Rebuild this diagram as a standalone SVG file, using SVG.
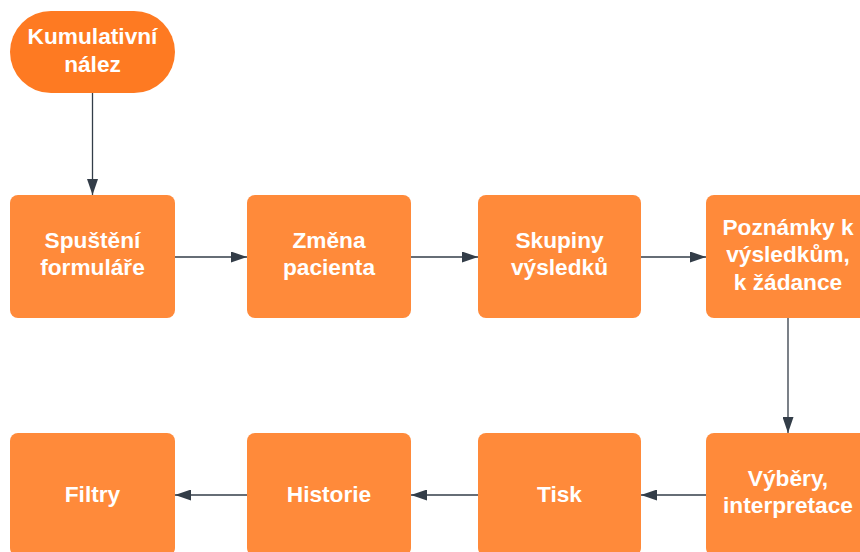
<svg xmlns="http://www.w3.org/2000/svg" width="860" height="552" viewBox="0 0 860 552">
  <defs>
    <marker id="arrow" markerUnits="userSpaceOnUse" markerWidth="17" markerHeight="11" refX="16" refY="5.5" orient="auto">
      <path d="M0,0 L16,5.5 L0,11 Z" fill="#333D48"/>
    </marker>
    <style>
      .box { fill: #FF8A3A; }
      .start { fill: #FE7A22; }
      .label { font-family: "Liberation Sans", Arial, sans-serif; font-weight: bold; font-size: 22.7px; fill: #FFFFFF; text-anchor: middle; }
      .edge { stroke: #333D48; stroke-width: 1.3; fill: none; marker-end: url(#arrow); }
    </style>
  </defs>
  <rect width="860" height="552" fill="#FFFFFF"/>

  <g id="connectors">
    <path class="edge" d="M92.5,93 L92.5,195"/>
    <path class="edge" d="M175,257 L247,257"/>
    <path class="edge" d="M411,257 L478,257"/>
    <path class="edge" d="M641,257 L706,257"/>
    <path class="edge" d="M788,318 L788,433"/>
    <path class="edge" d="M706,495 L641,495"/>
    <path class="edge" d="M478,495 L411,495"/>
    <path class="edge" d="M247,495 L175,495"/>
  </g>

  <g id="kumulativni-nalez">
    <rect class="start" x="10" y="11" width="165" height="82" rx="41"/>
    <text class="label" x="92.5" y="44">Kumulativní</text>
    <text class="label" x="92.5" y="71.5">nález</text>
  </g>

  <g id="spusteni-formulare">
    <rect class="box" x="10" y="195" width="165" height="123" rx="8"/>
    <text class="label" x="92.5" y="247.5">Spuštění</text>
    <text class="label" x="92.5" y="275">formuláře</text>
  </g>

  <g id="zmena-pacienta">
    <rect class="box" x="247" y="195" width="164" height="123" rx="8"/>
    <text class="label" x="329" y="247.5">Změna</text>
    <text class="label" x="329" y="275">pacienta</text>
  </g>

  <g id="skupiny-vysledku">
    <rect class="box" x="478" y="195" width="163" height="123" rx="8"/>
    <text class="label" x="559.5" y="247.5">Skupiny</text>
    <text class="label" x="559.5" y="275">výsledků</text>
  </g>

  <g id="poznamky">
    <rect class="box" x="706" y="195" width="164" height="123" rx="8"/>
    <text class="label" x="788" y="234.5">Poznámky k</text>
    <text class="label" x="788" y="262">výsledkům,</text>
    <text class="label" x="788" y="289.5">k žádance</text>
  </g>

  <g id="vybery-interpretace">
    <rect class="box" x="706" y="433" width="164" height="123" rx="8"/>
    <text class="label" x="788" y="485.5">Výběry,</text>
    <text class="label" x="788" y="513">interpretace</text>
  </g>

  <g id="tisk">
    <rect class="box" x="478" y="433" width="163" height="123" rx="8"/>
    <text class="label" x="559.5" y="502">Tisk</text>
  </g>

  <g id="historie">
    <rect class="box" x="247" y="433" width="164" height="123" rx="8"/>
    <text class="label" x="329" y="502">Historie</text>
  </g>

  <g id="filtry">
    <rect class="box" x="10" y="433" width="165" height="123" rx="8"/>
    <text class="label" x="92.5" y="502">Filtry</text>
  </g>
</svg>
